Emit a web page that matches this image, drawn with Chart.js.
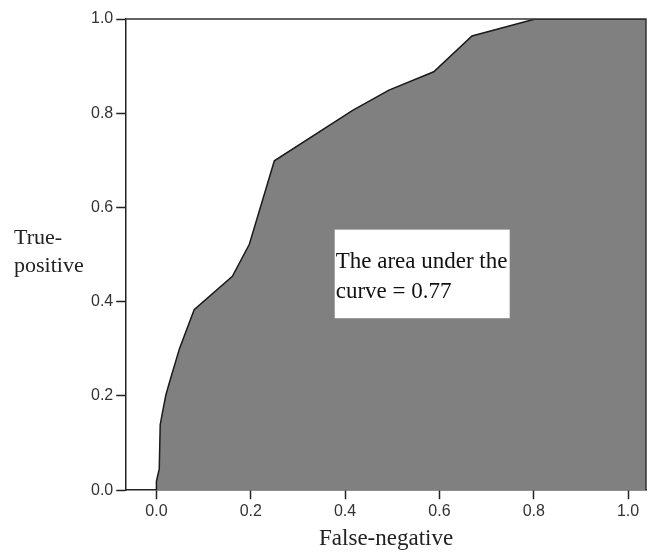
<!DOCTYPE html>
<html>
<head>
<meta charset="utf-8">
<script src="https://cdn.jsdelivr.net/npm/chart.js@4"></script>
<style>
  html, body { margin: 0; padding: 0; background: #fff; }
  #wrap { width: 649px; height: 553px; }
</style>
</head>
<body>
<div id="wrap"><canvas id="graph"></canvas></div>
<script>
const falseNegative = [0, 0.0, 0.006, 0.008, 0.013, 0.02, 0.028, 0.049, 0.08, 0.161, 0.197, 0.25, 0.416, 0.493, 0.588, 0.669, 0.803, 1.04];
const truePositive = [0, 0.019, 0.045, 0.139, 0.166, 0.202, 0.23, 0.301, 0.383, 0.454, 0.522, 0.699, 0.806, 0.849, 0.888, 0.964, 1.0, 1.0];
const xTicks = [0, 0.2, 0.4, 0.6, 0.8, 1.0];
const yTicks = [0, 0.2, 0.4, 0.6, 0.8, 1.0];
const areaText = ["The area under the", "curve = 0.77"];
const yTitle = ["True-", "positive"];

const graph = document.getElementById("graph");

const points = falseNegative.map((x, i) => ({ x: x, y: truePositive[i] }));

const tickFont = { family: "'Liberation Sans', Arial, sans-serif", size: 16 };
const serif = "'Liberation Serif', 'Times New Roman', serif";

// box around plot + text label + left title
const extras = {
  id: "extras",
  afterDatasetsDraw(chart) {
    const { ctx, chartArea, scales } = chart;
    ctx.save();
    // text box sits in data space
    const x0 = scales.x.getPixelForValue(0.378);
    const x1 = scales.x.getPixelForValue(0.749);
    const y0 = scales.y.getPixelForValue(0.553);
    const y1 = scales.y.getPixelForValue(0.365);
    ctx.fillStyle = "#fff";
    ctx.fillRect(x0, y0, x1 - x0, y1 - y0);
    ctx.fillStyle = "#111";
    ctx.font = "23px " + serif;
    ctx.textBaseline = "alphabetic";
    ctx.fillText(areaText[0], x0 + 1, y0 + 38);
    ctx.fillText(areaText[1], x0 + 1, y0 + 68);
    // frame
    ctx.strokeStyle = "#333";
    ctx.lineWidth = 1.5;
    ctx.beginPath();
    ctx.moveTo(chartArea.left, chartArea.top);
    ctx.lineTo(chartArea.right, chartArea.top);
    ctx.lineTo(chartArea.right, chartArea.bottom);
    ctx.stroke();
    // y title, horizontal
    ctx.fillStyle = "#222";
    ctx.font = "22px " + serif;
    ctx.fillText(yTitle[0], 14, 244);
    ctx.fillText(yTitle[1], 14, 272);
    ctx.restore();
  },
};

const data = {
  datasets: [
    {
      label: "ROC",
      data: points,
      borderColor: "#1a1a1a",
      borderWidth: 1.5,
      backgroundColor: "#808080",
      fill: "origin",
      pointRadius: 0,
      tension: 0,
    },
  ],
};

const config = {
  type: "line",
  data,
  plugins: [extras],
  options: {
    responsive: true,
    maintainAspectRatio: false,
    animation: false,
    layout: { padding: { left: 88, right: 3, top: 19, bottom: 0 } },
    plugins: { legend: { display: false }, tooltip: { enabled: false } },
    scales: {
      x: {
        type: "linear",
        min: -0.064,
        max: 1.038,
        afterBuildTicks: (s) => { s.ticks = xTicks.map((v) => ({ value: v })); },
        ticks: { font: tickFont, color: "#333", padding: 3, callback: (v) => v.toFixed(1) },
        grid: { drawOnChartArea: false, tickLength: 9, tickColor: "#222", tickWidth: 1.5 },
        border: { display: true, color: "#222", width: 1.5 },
        title: { display: true, text: "False-negative", color: "#222", font: { family: serif, size: 23 }, padding: { top: 1, bottom: 0 } },
      },
      y: {
        type: "linear",
        min: 0,
        max: 1,
        afterBuildTicks: (s) => { s.ticks = yTicks.map((v) => ({ value: v })); },
        ticks: { font: tickFont, color: "#333", padding: 3, callback: (v) => v.toFixed(1) },
        grid: { drawOnChartArea: false, tickLength: 10, tickColor: "#222", tickWidth: 1.5 },
        border: { display: true, color: "#222", width: 1.5 },
      },
    },
  },
};

const graphic = new Chart(graph, config);
</script>
</body>
</html>
